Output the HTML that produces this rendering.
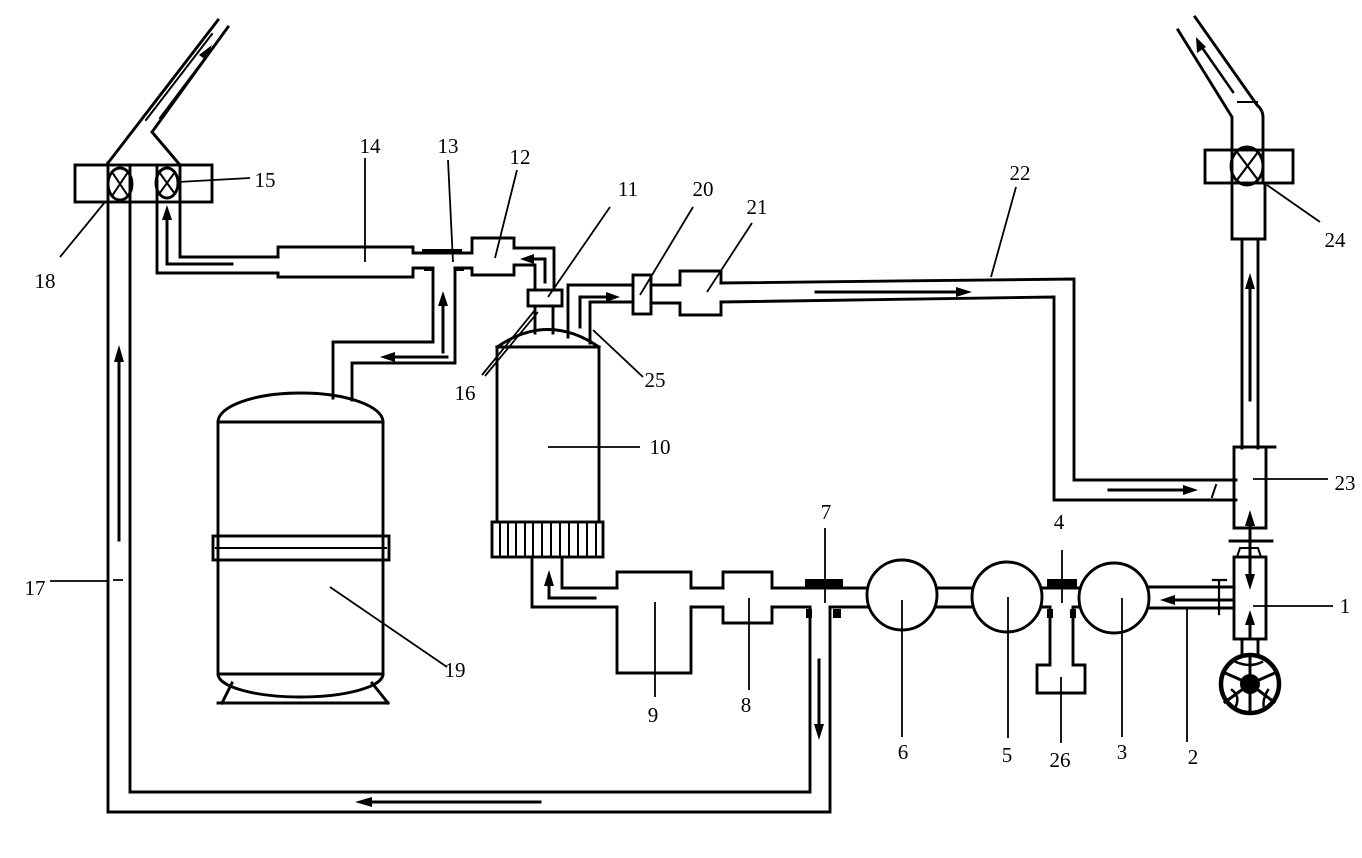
<!DOCTYPE html>
<html><head><meta charset="utf-8"><style>
html,body{margin:0;padding:0;background:#fff;}
svg{display:block;}
text{font-family:"Liberation Serif",serif;font-size:21px;fill:#000;text-anchor:middle;}
</style></head><body>
<svg width="1362" height="858" viewBox="0 0 1362 858" xmlns="http://www.w3.org/2000/svg">
<rect width="1362" height="858" fill="#fff"/>
<g fill="none" stroke="#000" stroke-width="2.9" stroke-linejoin="miter" stroke-linecap="square">
<!-- pipe 17 -->
<path d="M108,163 V812 H830 V608"/>
<path d="M130,165 V792 H810 V608"/>
<!-- diagonal top left -->
<path d="M108,163 L218,20"/>
<path d="M180,165 L152,132 L228,27"/>
<path d="M146,120 L212,34" stroke-width="2"/>
<path d="M160,118 L205,58" stroke-width="2"/>
<!-- box 18/15 -->
<rect x="75" y="165" width="137" height="37"/>
<path d="M157,165 V273 H278"/>
<path d="M180,165 V257 H278"/>
<ellipse cx="120" cy="184" rx="12" ry="16"/>
<path d="M112,172 L128,196 M128,172 L112,196" stroke-width="2"/>
<ellipse cx="167" cy="183" rx="11" ry="15"/>
<path d="M159,172 L175,194 M175,172 L159,194" stroke-width="2"/>
<!-- arrow in 15 pipe -->
<path d="M232,264 H167 V214" stroke-width="3"/>
<!-- 14 / 13 / 12 -->
<path d="M278,257 V247 H413 V253 H472 V238 H514 V248 H554 V290"/>
<path d="M278,273 V277 H413 V268 H433 V342 H333 V398"/>
<path d="M455,268 H472 V275 H514 V265 H535 V290"/>
<path d="M455,268 V363 H352 V400"/>
<!-- arrows in pipe to 19 -->
<path d="M447,357 H388" stroke-width="3"/>
<path d="M443,352 V300" stroke-width="3"/>
<!-- 11 -->
<rect x="528" y="290" width="34" height="16"/>
<path d="M535,306 V333 M553,306 V333"/>
<path d="M545,282 V259 H528" stroke-width="3"/>
<!-- tank 10 -->
<path d="M497,347 Q548,312 599,347"/>
<path d="M497,347 H599"/>
<path d="M497,347 V522 M599,347 V522"/>
<rect x="492" y="522" width="111" height="35"/>
<path d="M500,524 V555 M508,524 V555 M516,524 V555 M525,524 V555 M533,524 V555 M542,524 V555 M551,524 V555 M560,524 V555 M569,524 V555 M578,524 V555 M587,524 V555 M596,524 V555" stroke-width="2"/>
<!-- 25 pipe -->
<path d="M568,337 V285 H633"/>
<path d="M590,343 V302 H633"/>
<path d="M580,327 V297 H612" stroke-width="3"/>
<!-- 20, 21 -->
<rect x="633" y="275" width="18" height="39"/>
<path d="M651,285 H680 V271 H721 V283"/>
<path d="M651,303 H680 V315 H721 V302"/>
<!-- pipe 22 -->
<path d="M721,283 L1074,279 V480 H1236"/>
<path d="M721,302 L1054,297 V500 H1236"/>
<path d="M816,292 H962" stroke-width="3"/>
<path d="M1109,490 H1188" stroke-width="3"/>
<path d="M1212,497 L1216,485" stroke-width="2"/>
<!-- 24 -->
<path d="M1232,183 V117 L1178,30"/>
<path d="M1263,183 V117 Q1263,110 1257,105 L1195,17"/>
<path d="M1232,183 V239 H1265 V183"/>
<path d="M1238,102 H1257" stroke-width="2"/>
<path d="M1233,92 L1201,46" stroke-width="2.5"/>
<rect x="1205" y="150" width="88" height="33"/>
<ellipse cx="1247" cy="166" rx="16" ry="19"/>
<path d="M1237,152 L1258,180 M1258,152 L1237,180" stroke-width="2.2"/>
<path d="M1242,239 V448 M1258,239 V448"/>
<path d="M1250,400 V285" stroke-width="3"/>
<!-- 23 -->
<path d="M1234,447 H1275"/>
<path d="M1234,448 V528 H1266 V448"/>
<path d="M1230,541 H1272"/>
<!-- 1 -->
<rect x="1234" y="557" width="32" height="82"/>
<path d="M1237,557 L1240,548 H1258 L1261,557" stroke-width="2"/>
<path d="M1250,522 V578" stroke-width="3"/>
<path d="M1250,638 V620" stroke-width="3"/>
<!-- pipe 2 -->
<path d="M1150,587 H1234 M1150,608 H1234"/>
<path d="M1219,580 V614 M1213,580 H1226" stroke-width="2.2"/>
<path d="M1232,600 H1172" stroke-width="3"/>
<!-- pump -->
<path d="M1242,639 V655 M1258,639 V655"/>
<circle cx="1250" cy="684" r="29" stroke-width="4.5"/>
<path d="M1250,684 L1250,655 M1250,684 L1277,672 M1250,684 L1274,702 M1250,684 L1250,713 M1250,684 L1225,702 M1250,684 L1223,672" stroke-width="3"/>
<path d="M1236,662 Q1250,668 1262,662 M1268,690 Q1262,700 1264,708 M1236,706 Q1240,696 1232,690" stroke-width="2.5"/>
<!-- balls -->
<circle cx="1114" cy="598" r="35"/>
<circle cx="1007" cy="597" r="35"/>
<circle cx="902" cy="595" r="35"/>
<path d="M1042,588 H1079 M1042,607 H1050 M1073,607 H1079"/>
<path d="M937,588 H972 M937,607 H972"/>
<path d="M772,588 H867 M772,607 H810 M830,607 H867"/>
<!-- 26 -->
<path d="M1050,607 V665 H1037 V693 H1085 V665 H1073 V607"/>
<!-- down arrow 7 -->
<path d="M819,660 V728" stroke-width="3"/>
<!-- 8, 9 -->
<path d="M772,588 V572 H723 V588 M772,607 V623 H723 V607"/>
<path d="M691,588 H723 M691,607 H723"/>
<path d="M691,588 V572 H617 V588 M691,607 V673 H617 V607"/>
<path d="M617,588 H562 V557 M617,607 H532 V557"/>
<path d="M595,598 H549 V582" stroke-width="3"/>
<!-- tank 19 -->
<path d="M218,422 A82.5,29 0 0 1 383,422"/>
<path d="M218,422 H383 M218,422 V674 M383,422 V674 M218,674 H383"/>
<path d="M218,674 A82.5,23 0 0 0 383,674"/>
<rect x="213" y="536" width="176" height="24"/>
<path d="M216,548 H386" stroke-width="2"/>
<path d="M218,703 H388 M232,683 L222,703 M372,683 L388,703"/>
<!-- up arrow 17 -->
<path d="M119,540 V358" stroke-width="3"/>
<!-- bottom arrow -->
<path d="M540,802 H368" stroke-width="3"/>
</g>
<!-- filled parts -->
<g fill="#000" stroke="none">
<rect x="422" y="249" width="40" height="5"/>
<rect x="424" y="267" width="9" height="4"/>
<rect x="455" y="267" width="9" height="4"/>
<rect x="1047" y="579" width="30" height="9"/>
<rect x="805" y="579" width="38" height="9"/>
<rect x="1047" y="609" width="6" height="9"/>
<rect x="1070" y="609" width="6" height="9"/>
<rect x="806" y="609" width="6" height="9"/>
<rect x="833" y="609" width="8" height="9"/>
<circle cx="1250" cy="684" r="10"/>
<!-- arrowheads -->
<polygon points="167,205 162,220 172,220"/>
<polygon points="380,357 395,352 395,362"/>
<polygon points="443,291 438,306 448,306"/>
<polygon points="520,259 534,254 534,264"/>
<polygon points="620,297 606,292 606,302"/>
<polygon points="972,292 956,287 956,297"/>
<polygon points="1198,490 1183,485 1183,495"/>
<polygon points="1196,37 1197,53 1206,47"/>
<polygon points="1250,273 1245,289 1255,289"/>
<polygon points="1250,510 1245,526 1255,526"/>
<polygon points="1250,590 1245,574 1255,574"/>
<polygon points="1250,610 1245,625 1255,625"/>
<polygon points="1160,600 1175,595 1175,605"/>
<polygon points="819,740 814,724 824,724"/>
<polygon points="549,570 544,586 554,586"/>
<polygon points="119,345 114,362 124,362"/>
<polygon points="355,802 372,797 372,807"/>
<polygon points="212,45 199,55 206,60"/>
</g>
<!-- leaders -->
<g fill="none" stroke="#000" stroke-width="1.8">
<path d="M60,257 L105,202"/>
<path d="M178,182 L250,178"/>
<path d="M365,158 V262"/>
<path d="M448,160 L453,262"/>
<path d="M517,170 L495,258"/>
<path d="M610,207 L548,297"/>
<path d="M693,207 L640,295"/>
<path d="M752,223 L707,292"/>
<path d="M1016,187 L991,277"/>
<path d="M1267,185 L1320,222"/>
<path d="M482,375 L535,310 M485,376 L538,312"/>
<path d="M593,330 L643,377"/>
<path d="M548,447 H640"/>
<path d="M1253,479 H1328"/>
<path d="M1253,606 H1333"/>
<path d="M1187,608 V742"/>
<path d="M1122,598 V737"/>
<path d="M1008,597 V738"/>
<path d="M902,600 V737"/>
<path d="M1062,550 V603"/>
<path d="M1061,677 V743"/>
<path d="M825,528 V603"/>
<path d="M655,602 V697"/>
<path d="M749,598 V690"/>
<path d="M330,587 L447,667"/>
<path d="M50,581 H108 M113,580 H123"/>
</g>
<!-- labels -->
<text x="45" y="288">18</text>
<text x="265" y="187">15</text>
<text x="370" y="153">14</text>
<text x="448" y="153">13</text>
<text x="520" y="164">12</text>
<text x="628" y="196">11</text>
<text x="703" y="196">20</text>
<text x="757" y="214">21</text>
<text x="1020" y="180">22</text>
<text x="1335" y="247">24</text>
<text x="465" y="400">16</text>
<text x="655" y="387">25</text>
<text x="660" y="454">10</text>
<text x="1345" y="490">23</text>
<text x="1345" y="613">1</text>
<text x="35" y="595">17</text>
<text x="455" y="677">19</text>
<text x="653" y="722">9</text>
<text x="746" y="712">8</text>
<text x="826" y="519">7</text>
<text x="903" y="759">6</text>
<text x="1007" y="762">5</text>
<text x="1059" y="529">4</text>
<text x="1060" y="767">26</text>
<text x="1122" y="759">3</text>
<text x="1193" y="764">2</text>
</svg>
</body></html>
